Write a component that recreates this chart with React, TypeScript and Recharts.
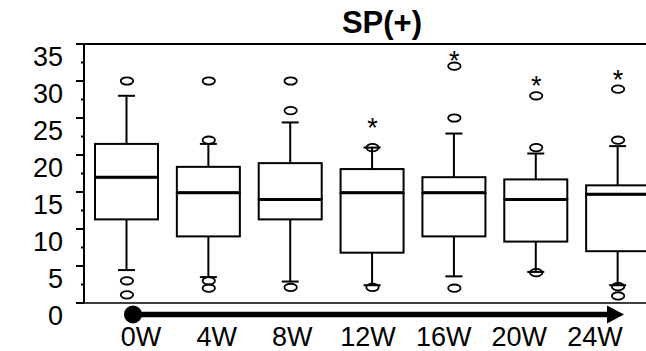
import React from "react";
import {
  ComposedChart,
  Bar,
  Line,
  XAxis,
  YAxis,
  ReferenceLine,
  ReferenceDot,
} from "recharts";

const categories = ["0W", "4W", "8W", "12W", "16W", "20W", "24W"];
const mins = [4.45, 3.5, 2.9, 2.4, 3.6, 4.2, 2.4];
const q1s = [11.3, 9.0, 11.3, 6.8, 9.0, 8.3, 7.0];
const medians = [17.0, 14.9, 14.0, 14.9, 14.9, 14.0, 14.7];
const q3s = [21.5, 18.4, 18.9, 18.1, 17.0, 16.7, 15.9];
const maxs = [28.0, 21.5, 24.4, 21.0, 22.9, 20.2, 21.2];
const outliers = [
  [30, 3.0, 1.1],
  [30, 22, 3.0, 2.0],
  [30, 26, 2.1],
  [21, 2.1],
  [32, 25, 2.0],
  [28, 21, 4.1],
  [28.9, 22, 2.2, 0.95],
];
const stars = [null, null, null, 24.4, 33.5, 30.2, 30.9];
const yTicks = [0, 2.5, 5, 7.5, 10, 12.5, 15, 17.5, 20, 22.5, 25, 27.5, 30, 32.5, 35];
// positions of the week labels along the time arrow
const weekPos = [0, 1, 2, 3, 4, 5, 6];

// arrow below the x axis, in units of the time axis / y axis
const arrowStart = -0.106;
const arrowEnd = 6.383;
const arrowLevel = -1.55;

const FONT = "'Liberation Sans', Arial, sans-serif";
const INK = "#000";

const rows = categories.map((cat, i) => ({
  cat,
  t: weekPos[i],
  base: mins[i],
  lw: q1s[i] - mins[i],
  lb: medians[i] - q1s[i],
  ub: q3s[i] - medians[i],
  uw: maxs[i] - q3s[i],
  o1: outliers[i][0] ?? null,
  o2: outliers[i][1] ?? null,
  o3: outliers[i][2] ?? null,
  o4: outliers[i][3] ?? null,
  star: stars[i],
}));

const Empty = () => <g />;

const LowerWhisker = (p: any) => {
  const cx = p.x + p.width / 2;
  const yb = p.y + p.height;
  return (
    <g stroke={INK} strokeWidth={2}>
      <line x1={cx} x2={cx} y1={p.y} y2={yb} />
      <line x1={cx - 8.5} x2={cx + 8.5} y1={yb} y2={yb} />
    </g>
  );
};

const UpperWhisker = (p: any) => {
  const cx = p.x + p.width / 2;
  return (
    <g stroke={INK} strokeWidth={2}>
      <line x1={cx} x2={cx} y1={p.y} y2={p.y + p.height} />
      <line x1={cx - 8.5} x2={cx + 8.5} y1={p.y} y2={p.y} />
    </g>
  );
};

const LowerBox = (p: any) => (
  <rect x={p.x} y={p.y} width={p.width} height={p.height} fill="none" stroke={INK} strokeWidth={2} />
);

const UpperBox = (p: any) => (
  <g>
    <rect x={p.x} y={p.y} width={p.width} height={p.height} fill="none" stroke={INK} strokeWidth={2} />
    <line x1={p.x} x2={p.x + p.width} y1={p.y + p.height} y2={p.y + p.height} stroke={INK} strokeWidth={3} />
  </g>
);

const Outlier = (props: any) => {
  const { cx, cy, value, index } = props;
  if (value == null || cx == null || cy == null) return <g key={`e-${index}`} />;
  return (
    <ellipse key={`o-${index}`} cx={cx} cy={cy} rx={6.2} ry={3.7} fill="none" stroke={INK} strokeWidth={1.8} />
  );
};

const Star = (props: any) => {
  const { cx, cy, value, index } = props;
  if (value == null || cx == null || cy == null) return <g key={`e-${index}`} />;
  return (
    <text key={`s-${index}`} x={cx} y={cy} dy={15} textAnchor="middle" fontFamily={FONT} fontSize={27} fill={INK}>
      *
    </text>
  );
};

const YTick = (props: any) => {
  const { x, y, payload } = props;
  const major = payload.value % 5 === 0;
  return (
    <g>
      <line x1={major ? x : x + 5} x2={x + 8} y1={y} y2={y} stroke={INK} strokeWidth={2} />
      {major && (
        <text x={x - 13} y={y} dy={21.5} textAnchor="end" fontFamily={FONT} fontSize={27} fill={INK}>
          {payload.value}
        </text>
      )}
    </g>
  );
};

const TimeTick = (props: any) => {
  const { x, y, payload } = props;
  return (
    <text x={x} y={y} dy={38.5} textAnchor="middle" fontFamily={FONT} fontSize={27} fill={INK}>
      {categories[weekPos.indexOf(payload.value)]}
    </text>
  );
};

const Arrow = (p: any) => {
  const { x1, y1, x2 } = p;
  return (
    <g>
      <line x1={x1} x2={x2 - 14} y1={y1} y2={y1} stroke={INK} strokeWidth={5.5} />
      <polygon points={`${x2},${y1} ${x2 - 17},${y1 - 9} ${x2 - 17},${y1 + 9}`} fill={INK} />
    </g>
  );
};

export default function App() {
  return (
    <div
      style={{
        position: "absolute",
        left: 0,
        top: 0,
        width: 646,
        height: 351,
        overflow: "hidden",
        background: "#fff",
      }}
    >
      <ComposedChart width={659} height={351} data={rows} margin={{ top: 0, right: 0, bottom: 0, left: 0 }}>
        <XAxis
          dataKey="cat"
          height={4}
          tick={false}
          tickSize={3}
          padding={{ left: 2, right: 0 }}
          axisLine={{ stroke: INK, strokeWidth: 1.5 }}
          tickLine={{ stroke: INK, strokeWidth: 1.5 }}
        />
        <XAxis
          xAxisId="time"
          dataKey="t"
          type="number"
          domain={[-0.7533, 6.8455]}
          allowDataOverflow
          ticks={weekPos}
          interval={0}
          height={44}
          axisLine={false}
          tickLine={false}
          tickSize={0}
          tickMargin={0}
          tick={<TimeTick />}
        />
        <XAxis
          xAxisId="top"
          orientation="top"
          dataKey="cat"
          scale="band"
          height={44}
          tick={false}
          tickSize={3}
          padding={{ left: 2, right: 0 }}
          axisLine={{ stroke: INK, strokeWidth: 2 }}
          tickLine={{ stroke: INK, strokeWidth: 1.5 }}
        />
        <YAxis
          width={84}
          domain={[0, 35]}
          allowDataOverflow
          ticks={yTicks}
          interval={0}
          tickSize={8}
          tickMargin={0}
          tickLine={false}
          axisLine={{ stroke: INK, strokeWidth: 2 }}
          tick={<YTick />}
        />
        <Bar dataKey="base" stackId="box" barSize={63} shape={<Empty />} isAnimationActive={false} />
        <Bar dataKey="lw" stackId="box" barSize={63} shape={<LowerWhisker />} isAnimationActive={false} />
        <Bar dataKey="lb" stackId="box" barSize={63} shape={<LowerBox />} isAnimationActive={false} />
        <Bar dataKey="ub" stackId="box" barSize={63} shape={<UpperBox />} isAnimationActive={false} />
        <Bar dataKey="uw" stackId="box" barSize={63} shape={<UpperWhisker />} isAnimationActive={false} />
        {["o1", "o2", "o3", "o4"].map((k) => (
          <Line
            key={k}
            dataKey={k}
            stroke="none"
            dot={Outlier}
            activeDot={false}
            isAnimationActive={false}
          />
        ))}
        <Line
          xAxisId="top"
          dataKey="star"
          stroke="none"
          dot={Star}
          activeDot={false}
          isAnimationActive={false}
        />
        {/* hidden series so the time axis has data of its own */}
        <Line
          xAxisId="time"
          dataKey="base"
          stroke="none"
          dot={false}
          activeDot={false}
          isAnimationActive={false}
        />
        <ReferenceLine
          xAxisId="time"
          segment={[
            { x: arrowStart, y: arrowLevel },
            { x: arrowEnd, y: arrowLevel },
          ]}
          ifOverflow="visible"
          shape={Arrow}
        />
        <ReferenceDot
          xAxisId="time"
          x={arrowStart}
          y={arrowLevel}
          r={9}
          fill={INK}
          stroke="none"
          ifOverflow="visible"
        />
      </ComposedChart>
      <svg
        width={646}
        height={351}
        style={{ position: "absolute", left: 0, top: 0, pointerEvents: "none" }}
      >
        <text x={382} y={33} textAnchor="middle" fontFamily={FONT} fontWeight="bold" fontSize={31} fill={INK}>
          SP(+)
        </text>
      </svg>
    </div>
  );
}
